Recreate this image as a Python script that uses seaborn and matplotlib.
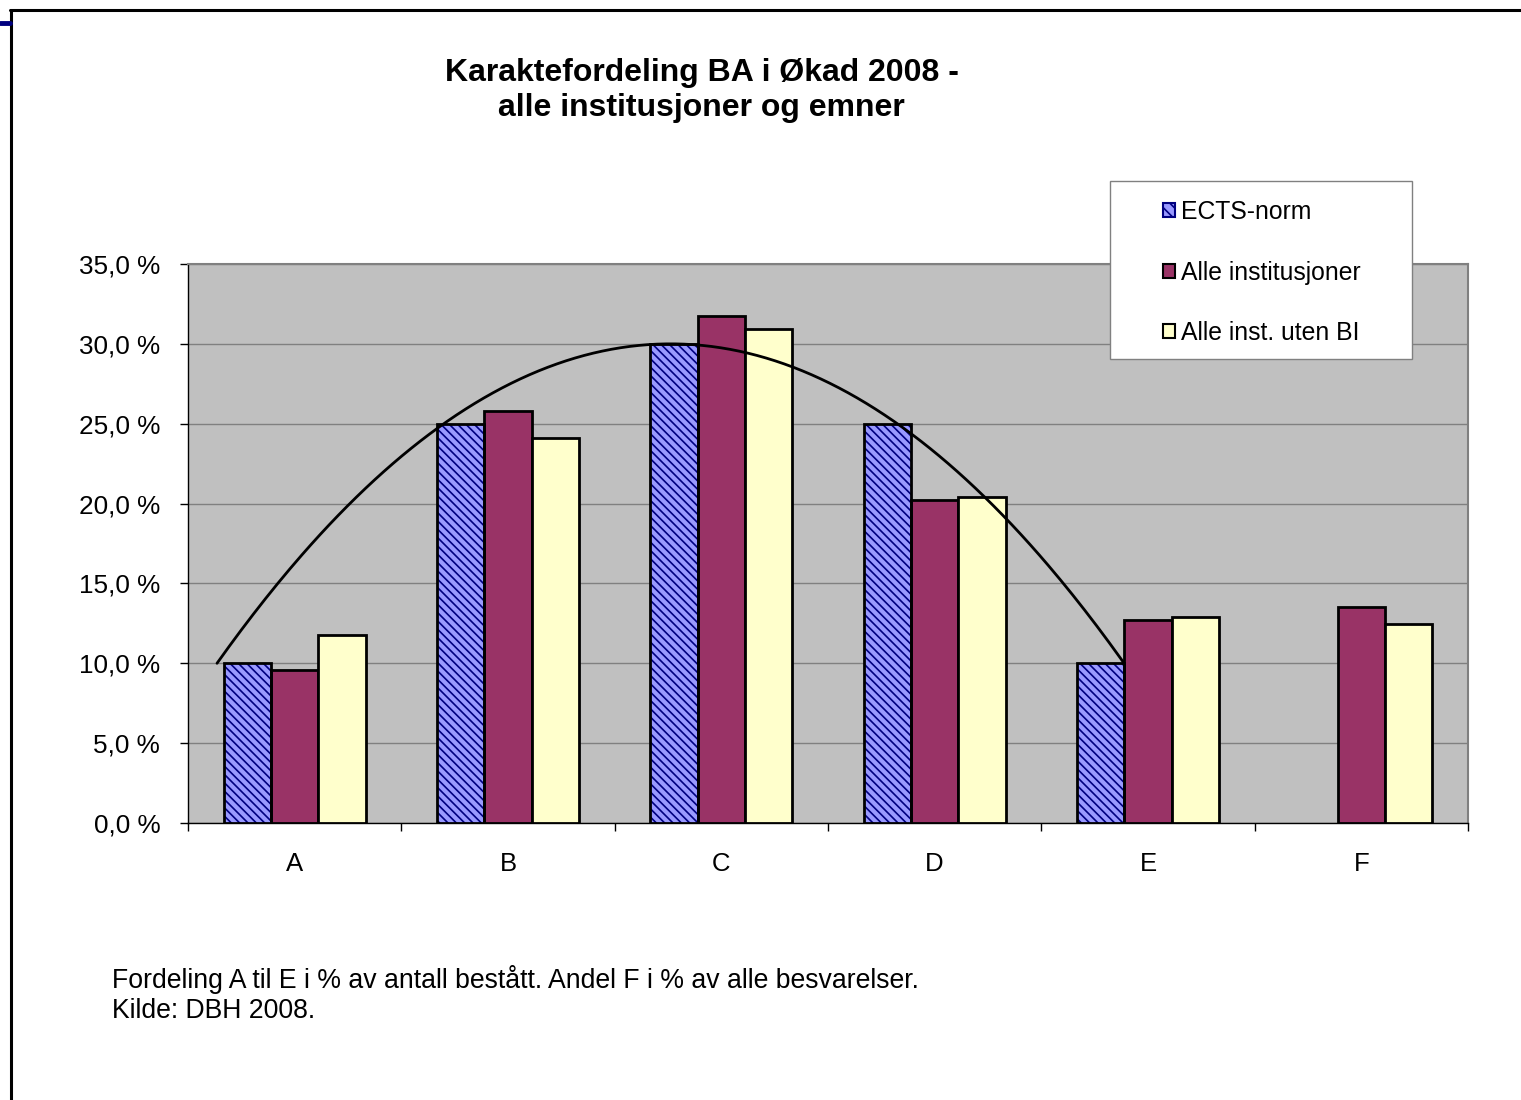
import matplotlib
matplotlib.use("Agg")
import matplotlib.pyplot as plt
from matplotlib.patches import Patch, Rectangle
from matplotlib.lines import Line2D
from matplotlib.ticker import FuncFormatter, MultipleLocator, FixedLocator
import numpy as np
import pandas as pd
import seaborn as sns

# --- DATA ---
karakterer = ["A", "B", "C", "D", "E", "F"]
ects_norm = [10.0, 25.0, 30.0, 25.0, 10.0, np.nan]
alle_inst = [9.6, 25.8, 31.75, 20.2, 12.7, 13.5]
alle_uten_bi = [11.8, 24.1, 30.9, 20.4, 12.9, 12.45]
serier = ["ECTS-norm", "Alle institusjoner", "Alle inst. uten BI"]
farger = ["#9999FF", "#993366", "#FFFFCC"]

df = pd.DataFrame({
    "karakter": karakterer * 3,
    "andel": ects_norm + alle_inst + alle_uten_bi,
    "serie": [s for s in serier for _ in karakterer],
})

sns.set_style("white")
plt.rcParams["font.family"] = ["Liberation Sans", "DejaVu Sans"]
plt.rcParams["hatch.linewidth"] = 1.2
plt.rcParams["text.color"] = "black"
plt.rcParams["xtick.color"] = "black"
plt.rcParams["ytick.color"] = "black"

fig = plt.figure(figsize=(15.21, 11), dpi=100)
ax = fig.add_axes([188 / 1521, 1 - 823 / 1100, (1468 - 188) / 1521, (823 - 264) / 1100])
ax.set_facecolor("#C0C0C0")

sns.barplot(data=df, x="karakter", y="andel", hue="serie", hue_order=serier,
            order=karakterer, palette=farger, saturation=1, width=0.667,
            edgecolor="black", linewidth=2, legend=False, ax=ax, zorder=3)

# Hatch the ECTS bars: navy diagonal lines, plus a black outline on top
for p in list(ax.patches):
    fc = p.get_facecolor()
    if np.allclose(fc[:3], matplotlib.colors.to_rgb(farger[0])) and p.get_height() > 0:
        p.set_hatch("\\\\\\\\")
        p.set_edgecolor("#000080")
        p.set_linewidth(0)
        ax.add_patch(Rectangle((p.get_x(), p.get_y()), p.get_width(), p.get_height(),
                               fill=False, edgecolor="black", linewidth=2, zorder=4))

# Polynomial (2nd order) trendline on the ECTS norm, as in the original chart
t = np.arange(5)
coef = np.polyfit(t, ects_norm[:5], 2)
ts = np.linspace(0, 4, 300)
ax.plot(-0.364 + ts * 1.063, np.polyval(coef, ts), color="black", lw=2.0, zorder=5)

# Axes styling
ax.set_xlim(-0.5, 5.5)
ax.set_ylim(0, 35)
ax.yaxis.set_major_locator(MultipleLocator(5))
ax.yaxis.set_major_formatter(FuncFormatter(lambda v, _: f"{v:.1f} %".replace(".", ",")))
ax.grid(axis="y", color="#808080", lw=1, zorder=0)
ax.set_axisbelow(True)
ax.xaxis.set_major_locator(FixedLocator(np.arange(-0.5, 6.0, 1.0)))
ax.xaxis.set_minor_locator(FixedLocator(np.arange(6)))
ax.set_xticklabels([], minor=False)
ax.set_xticklabels(karakterer, minor=True)
ax.tick_params(axis="x", which="major", direction="out", length=6, width=1, color="black", bottom=True)
ax.tick_params(axis="x", which="minor", length=0, pad=21, labelsize=18.5)
ax.tick_params(axis="y", direction="out", length=6, width=1, color="black", pad=14, labelsize=18.8, left=True)
ax.set_xlabel("")
ax.set_ylabel("")
for side in ["left", "bottom"]:
    ax.spines[side].set_color("black")
    ax.spines[side].set_linewidth(1)
for side in ["top", "right"]:
    ax.spines[side].set_color("#808080")
    ax.spines[side].set_linewidth(1.5)

# Legend in a white box
fig.add_artist(Rectangle((1110 / 1521, 1 - 359 / 1100), 302 / 1521, 178 / 1100,
                         transform=fig.transFigure, facecolor="white",
                         edgecolor="#808080", lw=1, zorder=5))
handles = [Patch(facecolor=farger[0], edgecolor="#000080", hatch="\\\\\\", lw=1.5),
           Patch(facecolor=farger[1], edgecolor="black", lw=1.5),
           Patch(facecolor=farger[2], edgecolor="black", lw=1.5)]
leg = fig.legend(handles, serier, loc="upper left", frameon=False,
                 bbox_to_anchor=(1163 / 1521, 1 - 200 / 1100),
                 fontsize=17.8, handlelength=0.5, handleheight=0.5, handletextpad=0.22,
                 labelspacing=1.48, borderpad=0, borderaxespad=0)
leg.set_zorder(6)

# Titles and footnote
fig.text(702 / 1521, 1 - 73 / 1100, "Karaktefordeling BA i Økad 2008 -",
         ha="center", va="center", fontsize=23, fontweight="bold")
fig.text(701 / 1521, 1 - 108 / 1100, "alle institusjoner og emner",
         ha="center", va="center", fontsize=23, fontweight="bold")
fig.text(112 / 1521, 1 - 979 / 1100,
         "Fordeling A til E i % av antall bestått. Andel F i % av alle besvarelser.",
         ha="left", va="center", fontsize=19.2)
fig.text(112 / 1521, 1 - 1011 / 1100, "Kilde: DBH 2008.", ha="left", va="center", fontsize=19.2)

# Slide frame
fig.add_artist(Line2D([10 / 1521, 1], [1 - 9.5 / 1100] * 2, color="black", lw=2.2,
                      transform=fig.transFigure))
fig.add_artist(Line2D([11 / 1521] * 2, [0, 1 - 9.5 / 1100], color="black", lw=2.2,
                      transform=fig.transFigure))
fig.add_artist(Line2D([0, 10 / 1521], [1 - 23 / 1100] * 2, color="#000080", lw=3.5,
                      transform=fig.transFigure))

fig.savefig("out.png", dpi=100, facecolor="white")
